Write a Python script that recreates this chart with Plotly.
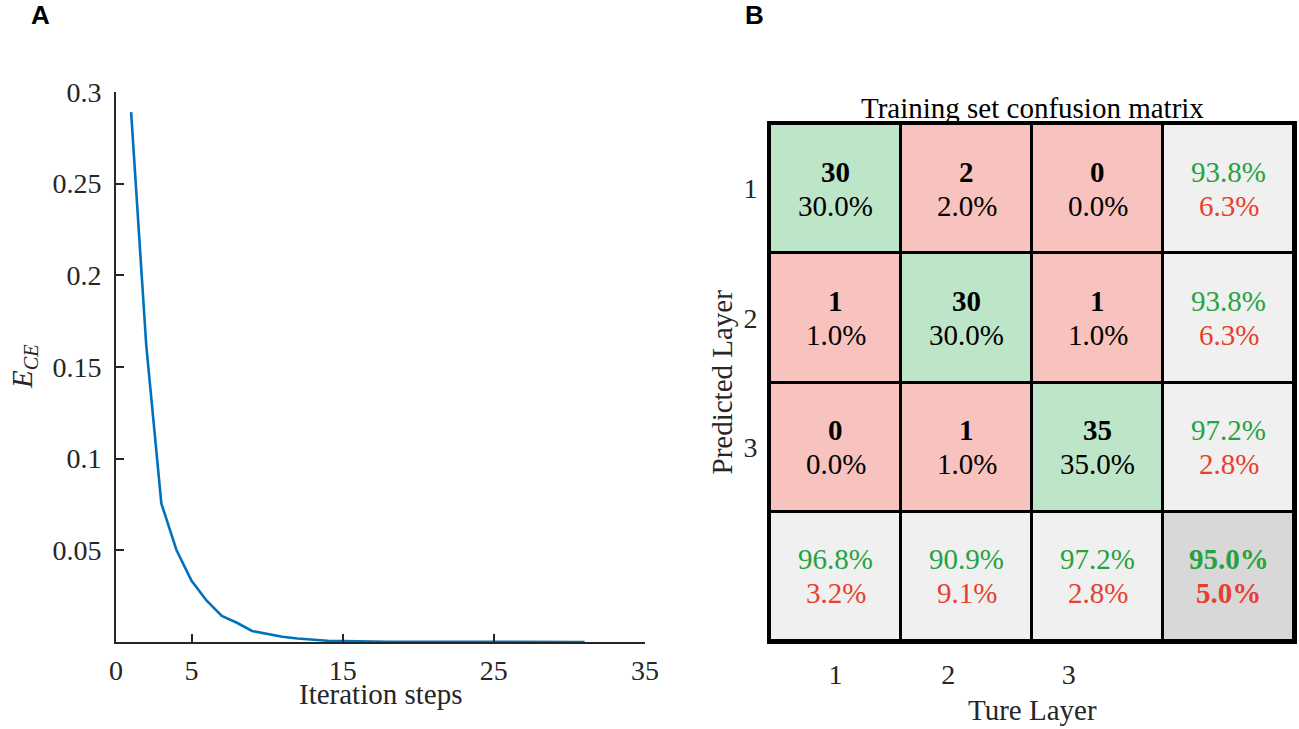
import plotly.graph_objects as go
import math

# ---------------- data ----------------
iterations = list(range(1, 32))
ece = [0.289, 0.162, 0.0756, 0.0502, 0.0334, 0.0225, 0.0142, 0.0105, 0.0060, 0.0043,
       0.0029, 0.0019, 0.0011, 0.0007, 0.0005, 0.0003, 0.0002, 0.00015, 0.00012, 0.0001,
       0.00008, 0.00007, 0.00006, 0.00005, 0.00004, 0.00004, 0.00003, 0.00003, 0.00002,
       0.00002, 0.00002]

x_ticks_a = [0, 5, 15, 25, 35]
y_ticks_a = [0.05, 0.1, 0.15, 0.2, 0.25, 0.3]
y_labels_a = ["0.05", "0.1", "0.15", "0.2", "0.25", "0.3"]

classes = ["1", "2", "3"]
counts = [[30, 2, 0],
          [1, 30, 1],
          [0, 1, 35]]

# ---------------- styles ----------------
SERIF = "Liberation Serif"
SANS = "Liberation Sans"
AX = "#262626"
BLUE = "#0072BD"
CELL_GREEN = "#BDE5C8"
CELL_RED = "#F8C2BF"
CELL_GRAY = "#F0F0F0"
CELL_DGRAY = "#D8D8D8"
TXT_GREEN = "#27A243"
TXT_RED = "#E8402F"
FS = 29
W, H = 1299, 729


def r1(v):
    return "%.1f%%" % (math.floor(v * 10 + 0.5) / 10)


n = len(classes)
total = sum(sum(r) for r in counts)
row_sums = [sum(r) for r in counts]
col_sums = [sum(counts[i][j] for i in range(n)) for j in range(n)]
diag = sum(counts[i][i] for i in range(n))

# colour codes for the 4x4 grid
z = []
for i in range(n + 1):
    row = []
    for j in range(n + 1):
        if i == n and j == n:
            row.append(3)
        elif i == n or j == n:
            row.append(2)
        elif i == j:
            row.append(0)
        else:
            row.append(1)
    z.append(row)

fig = go.Figure()

# Panel A
fig.add_trace(go.Scatter(x=iterations, y=ece, mode="lines",
                         line=dict(color=BLUE, width=2.6),
                         xaxis="x", yaxis="y", showlegend=False, hoverinfo="skip"))

# Panel B heatmap
cs = [[0, CELL_GREEN], [0.25, CELL_GREEN], [0.25, CELL_RED], [0.5, CELL_RED],
      [0.5, CELL_GRAY], [0.75, CELL_GRAY], [0.75, CELL_DGRAY], [1, CELL_DGRAY]]
fig.add_trace(go.Heatmap(z=z, x=list(range(n + 1)), y=list(range(n + 1)),
                         colorscale=cs, zmin=0, zmax=3, showscale=False,
                         xgap=3, ygap=3, hoverinfo="skip",
                         xaxis="x2", yaxis="y2"))

annotations = []


def cell_text(i, j, top, bottom, top_color, bottom_color):
    annotations.append(dict(x=j, y=i, xref="x2", yref="y2", text=top, showarrow=False,
                            yshift=17, font=dict(family=SERIF, size=FS, color=top_color)))
    annotations.append(dict(x=j, y=i, xref="x2", yref="y2", text=bottom, showarrow=False,
                            yshift=-17, font=dict(family=SERIF, size=FS, color=bottom_color)))


for i in range(n):
    for j in range(n):
        c = counts[i][j]
        cell_text(i, j, "<b>%d</b>" % c, r1(c / total * 100), "black", "black")
    p = counts[i][i] / row_sums[i] * 100
    cell_text(i, n, r1(p), r1(100 - p), TXT_GREEN, TXT_RED)
for j in range(n):
    p = counts[j][j] / col_sums[j] * 100
    cell_text(n, j, r1(p), r1(100 - p), TXT_GREEN, TXT_RED)
acc = diag / total * 100
cell_text(n, n, "<b>%s</b>" % r1(acc), "<b>%s</b>" % r1(100 - acc), TXT_GREEN, TXT_RED)

# titles & panel letters
annotations += [
    dict(text="<b>A</b>", x=40 / W, y=1 - 15 / H, xref="paper", yref="paper", showarrow=False,
         font=dict(family=SANS, size=26, color="black"), xanchor="center", yanchor="middle"),
    dict(text="<b>B</b>", x=755 / W, y=1 - 15 / H, xref="paper", yref="paper", showarrow=False,
         font=dict(family=SANS, size=26, color="black"), xanchor="center", yanchor="middle"),
    dict(text="Iteration steps", x=0.5, xref="x domain", y=1 - 694 / H, yref="paper",
         showarrow=False, font=dict(family=SERIF, size=FS, color=AX), yanchor="middle"),
    dict(text="<i>E</i><sub><i>CE</i></sub>", x=24 / W, y=0.5, xref="paper", yref="y domain",
         textangle=-90, showarrow=False, font=dict(family=SERIF, size=FS, color=AX),
         xanchor="center", yanchor="middle"),
    dict(text="Training set confusion matrix", x=0.5, xref="x2 domain", y=1 - 108 / H, yref="paper",
         showarrow=False, font=dict(family=SERIF, size=FS, color="black"), yanchor="middle"),
    dict(text="Ture Layer", x=0.5, xref="x2 domain", y=1 - 710 / H, yref="paper",
         showarrow=False, font=dict(family=SERIF, size=FS, color=AX), yanchor="middle"),
    dict(text="Predicted Layer", x=721 / W, y=0.5, xref="paper", yref="y2 domain",
         textangle=-90, showarrow=False, font=dict(family=SERIF, size=FS, color=AX),
         xanchor="center", yanchor="middle"),
]

fig.update_layout(
    width=W, height=H,
    margin=dict(l=0, r=0, t=0, b=0, autoexpand=False),
    paper_bgcolor="white", plot_bgcolor="white",
    showlegend=False,
    annotations=annotations,
    shapes=[dict(type="rect", xref="x2 domain", yref="y2 domain", x0=0, x1=1, y0=0, y1=1,
                 fillcolor="black", line=dict(width=0), layer="below")],
    xaxis=dict(domain=[116 / W, 645 / W], range=[0, 35], tickvals=x_ticks_a,
               ticktext=[str(v) for v in x_ticks_a], automargin=False,
               showline=True, linecolor=AX, linewidth=2, mirror=False,
               ticks="inside", ticklen=8, tickwidth=2, tickcolor=AX,
               showgrid=False, zeroline=False, ticklabelstandoff=2,
               tickfont=dict(family=SERIF, size=FS - 1, color=AX), anchor="y"),
    yaxis=dict(domain=[1 - 642 / H, 1 - 92 / H], range=[0, 0.3], tickvals=y_ticks_a,
               ticktext=y_labels_a, automargin=False,
               showline=True, linecolor=AX, linewidth=2, mirror=False,
               ticks="inside", ticklen=8, tickwidth=2, tickcolor=AX,
               showgrid=False, zeroline=False, ticklabelstandoff=7,
               tickfont=dict(family=SERIF, size=FS - 1, color=AX), anchor="x"),
    xaxis2=dict(domain=[770 / W, 1294 / W], range=[-0.5, n + 0.5],
                tickvals=[0, 0.86, 1.78], ticktext=classes, automargin=False,
                showline=True, linecolor="black", linewidth=3, mirror=True,
                ticks="", showgrid=False, zeroline=False, ticklabelstandoff=6,
                tickfont=dict(family=SERIF, size=FS - 1, color=AX), anchor="y2"),
    yaxis2=dict(domain=[1 - 641 / H, 1 - 124 / H], range=[n + 0.5, -0.5],
                tickvals=[0, 1, 2], ticktext=classes, automargin=False,
                showline=True, linecolor="black", linewidth=3, mirror=True,
                ticks="", showgrid=False, zeroline=False, ticklabelstandoff=4,
                tickfont=dict(family=SERIF, size=FS - 1, color=AX), anchor="x2"),
)

fig.write_html("out.html", config={"displayModeBar": False},
               post_script="document.body.style.margin='0';")
